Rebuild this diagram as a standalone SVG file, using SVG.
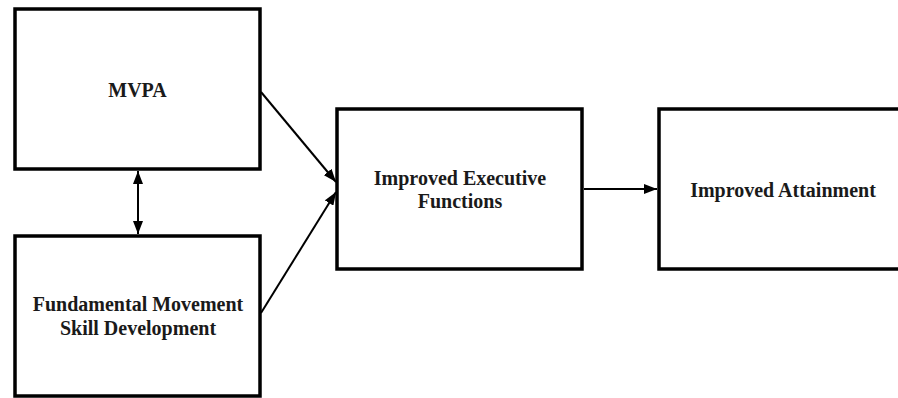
<svg xmlns="http://www.w3.org/2000/svg" width="898" height="398" viewBox="0 0 898 398">
<defs>
<marker id="ah" viewBox="0 0 13 10" refX="13" refY="5" markerWidth="13" markerHeight="10" markerUnits="userSpaceOnUse" orient="auto-start-reverse">
<path d="M0,0 L13,5 L0,10 z" fill="#000"/>
</marker>
<style>
.box{fill:#fff;stroke:#000;stroke-width:3.5}
.lbl{font-family:"Liberation Serif","Times New Roman",serif;font-weight:bold;font-size:20px;fill:#1a1a1a;text-anchor:middle}
.con{stroke:#000;stroke-width:2;fill:none;marker-end:url(#ah)}
</style>
</defs>
<rect width="898" height="398" fill="#fff"/>
<g id="mvpa">
<rect class="box" x="15" y="9" width="245" height="160"/>
<text class="lbl" x="137.5" y="97">MVPA</text>
</g>
<g id="fms">
<rect class="box" x="15" y="236" width="245" height="160"/>
<text class="lbl" x="138" y="311">Fundamental Movement</text>
<text class="lbl" x="138" y="335">Skill Development</text>
</g>
<g id="ief">
<rect class="box" x="337" y="109" width="245" height="160"/>
<text class="lbl" x="460" y="185">Improved Executive</text>
<text class="lbl" x="460" y="208">Functions</text>
</g>
<g id="ia">
<rect class="box" x="659" y="109" width="250" height="160"/>
<text class="lbl" x="783" y="197">Improved Attainment</text>
</g>
<g id="connectors">
<line class="con" x1="138" y1="171" x2="138" y2="234" marker-start="url(#ah)"/>
<line class="con" x1="261" y1="92" x2="336" y2="182"/>
<line class="con" x1="261" y1="313" x2="336" y2="192"/>
<line class="con" x1="584" y1="189" x2="657" y2="189"/>
</g>
</svg>
